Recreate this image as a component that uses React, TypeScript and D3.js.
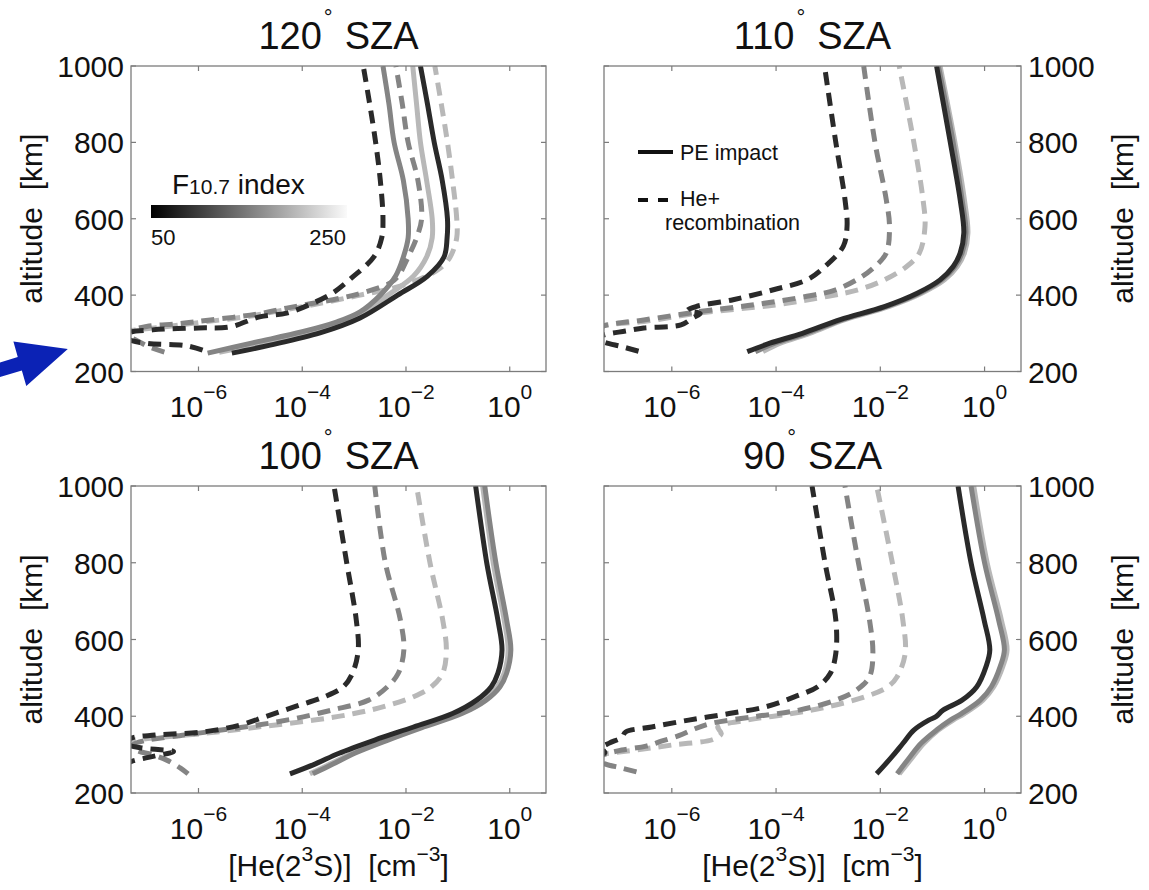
import React from 'react';
import * as d3 from 'd3';

// [altitude km, He(2^3S) density cm^-3]
type Pt = [number, number];

// ---- 120 deg SZA ----
const sza120PeDark: Pt[] = [[248, 4.4e-6], [269, 2.4e-5], [301, 2.2e-4], [340, 1.3e-3], [400, 6.9e-3], [450, 2.6e-2], [500, 5.4e-2], [550, 6.2e-2], [600, 6.3e-2], [700, 5.0e-2], [800, 3.5e-2], [900, 2.6e-2], [1000, 1.9e-2]];
const sza120PeGray: Pt[] = [[248, 1.5e-6], [275, 1.1e-5], [304, 1.0e-4], [330, 4.7e-4], [356, 1.3e-3], [400, 3.2e-3], [450, 6.3e-3], [500, 8.9e-3], [550, 1.1e-2], [600, 1.1e-2], [700, 8.9e-3], [800, 5.9e-3], [900, 4.7e-3], [1000, 3.6e-3]];
const sza120PeLight: Pt[] = [[250, 2.5e-6], [270, 1.3e-5], [300, 1.4e-4], [340, 1.0e-3], [400, 4.5e-3], [450, 1.4e-2], [500, 2.5e-2], [550, 3.2e-2], [600, 3.2e-2], [700, 2.5e-2], [800, 1.9e-2], [900, 1.6e-2], [1000, 1.35e-2]];
const sza120HeDark: Pt[] = [[256, 1.2e-6], [268, 5.6e-7], [274, 1.0e-7], [285, 4.5e-8], [300, 4.5e-8], [309, 1.3e-7], [314, 1.0e-6], [317, 4.1e-6], [343, 1.5e-5], [353, 5.0e-5], [379, 1.6e-4], [405, 3.8e-4], [447, 9.3e-4], [500, 2.4e-3], [550, 3.4e-3], [600, 3.6e-3], [700, 3.2e-3], [800, 2.6e-3], [900, 2.0e-3], [1000, 1.5e-3]];
const sza120HeGray: Pt[] = [[251, 2.2e-7], [265, 1.1e-7], [282, 6.3e-8], [300, 3.5e-8], [318, 1.0e-7], [325, 4.0e-7], [335, 1.7e-6], [350, 1.3e-5], [366, 5.0e-5], [392, 5.4e-4], [405, 1.35e-3], [432, 5.0e-3], [450, 7.1e-3], [500, 1.1e-2], [550, 1.6e-2], [600, 2.0e-2], [700, 1.7e-2], [800, 1.1e-2], [900, 8.5e-3], [1000, 6.4e-3]];
const sza120HeLight: Pt[] = [[305, 3.5e-8], [318, 2.5e-7], [330, 1.3e-6], [345, 1.0e-5], [360, 4.0e-5], [380, 2.5e-4], [400, 1.3e-3], [420, 6.3e-3], [450, 2.5e-2], [470, 4.5e-2], [500, 7.1e-2], [550, 9.5e-2], [600, 9.5e-2], [700, 7.9e-2], [800, 6.3e-2], [900, 4.8e-2], [1000, 3.6e-2]];

// ---- 110 deg SZA ----
const sza110PeDark: Pt[] = [[252, 2.8e-5], [274, 7.6e-5], [300, 3.2e-4], [336, 1.7e-3], [370, 1.2e-2], [405, 5.1e-2], [440, 0.14], [475, 0.25], [510, 0.34], [563, 0.40], [650, 0.34], [800, 0.22], [1000, 0.12]];
const sza110PeGray: Pt[] = [[252, 4.0e-5], [274, 9.5e-5], [300, 3.8e-4], [336, 1.9e-3], [370, 1.3e-2], [405, 5.6e-2], [440, 0.15], [475, 0.27], [510, 0.37], [563, 0.44], [650, 0.37], [800, 0.25], [1000, 0.13]];
const sza110PeLight: Pt[] = [[252, 5.6e-5], [274, 1.2e-4], [300, 4.4e-4], [336, 2.1e-3], [370, 1.45e-2], [405, 6.2e-2], [440, 0.17], [475, 0.30], [510, 0.41], [563, 0.48], [650, 0.41], [800, 0.27], [1000, 0.14]];
const sza110HeDark: Pt[] = [[253, 2.3e-7], [265, 1.1e-7], [277, 5.0e-8], [287, 3.5e-8], [296, 5.0e-8], [306, 1.3e-7], [314, 2.9e-7], [322, 1.5e-6], [340, 2.5e-6], [352, 3.5e-6], [360, 2.0e-6], [370, 2.9e-6], [388, 1.5e-5], [414, 8.9e-5], [440, 3.9e-4], [475, 8.7e-4], [528, 1.95e-3], [580, 2.3e-3], [650, 2.1e-3], [800, 1.4e-3], [1000, 8.5e-4]];
const sza110HeGray: Pt[] = [[312, 3.5e-8], [322, 5.8e-8], [335, 2.9e-7], [357, 3.4e-6], [375, 3.9e-5], [397, 3.9e-4], [414, 1.4e-3], [449, 4.5e-3], [475, 7.9e-3], [510, 1.3e-2], [580, 1.5e-2], [650, 1.3e-2], [800, 7.9e-3], [1000, 4.8e-3]];
const sza110HeLight: Pt[] = [[315, 3.5e-8], [322, 5.8e-8], [331, 2.9e-7], [353, 3.4e-6], [375, 1.05e-4], [397, 1.0e-3], [414, 3.8e-3], [440, 1.2e-2], [475, 3.2e-2], [510, 5.6e-2], [580, 7.2e-2], [650, 6.6e-2], [800, 4.4e-2], [1000, 2.3e-2]];

// ---- 100 deg SZA ----
const sza100PeDark: Pt[] = [[250, 5.8e-5], [276, 1.8e-4], [303, 5.0e-4], [338, 2.5e-3], [372, 1.4e-2], [407, 7.9e-2], [442, 0.23], [477, 0.44], [512, 0.59], [573, 0.71], [651, 0.59], [800, 0.36], [1000, 0.22]];
const sza100PeGray: Pt[] = [[250, 1.6e-4], [276, 4.0e-4], [303, 1.0e-3], [338, 4.5e-3], [372, 2.2e-2], [407, 0.12], [442, 0.35], [477, 0.65], [512, 0.87], [573, 1.05], [651, 0.87], [800, 0.54], [1000, 0.33]];
const sza100PeLight: Pt[] = [[250, 1.4e-4], [276, 3.5e-4], [303, 8.9e-4], [338, 4.0e-3], [372, 2.0e-2], [407, 0.105], [442, 0.31], [477, 0.575], [512, 0.78], [573, 0.93], [651, 0.78], [800, 0.48], [1000, 0.30]];
const sza100HeDark: Pt[] = [[272, 3.5e-8], [282, 5.0e-8], [296, 1.4e-7], [308, 3.3e-7], [318, 7.6e-8], [330, 3.5e-8], [343, 5.0e-8], [351, 1.45e-7], [359, 1.2e-6], [377, 6.3e-6], [399, 1.95e-5], [425, 7.2e-5], [451, 2.7e-4], [477, 6.2e-4], [512, 9.3e-4], [573, 1.2e-3], [651, 1.1e-3], [800, 7.2e-4], [1000, 4.1e-4]];
const sza100HeGray: Pt[] = [[250, 6.3e-7], [265, 4.5e-7], [285, 2.5e-7], [300, 1.26e-7], [312, 6.3e-8], [325, 5.4e-8], [338, 1.05e-7], [351, 5.4e-7], [364, 2.75e-6], [377, 1.4e-5], [394, 7.2e-5], [416, 3.7e-4], [442, 1.9e-3], [477, 4.4e-3], [512, 7.1e-3], [573, 9.1e-3], [651, 7.8e-3], [800, 4.0e-3], [1000, 2.5e-3]];
const sza100HeLight: Pt[] = [[335, 3.5e-8], [342, 1.05e-7], [355, 1.2e-6], [372, 1.4e-5], [390, 1.7e-4], [407, 1.0e-3], [425, 3.7e-3], [451, 1.4e-2], [477, 3.1e-2], [512, 5.1e-2], [573, 6.0e-2], [651, 5.1e-2], [800, 2.9e-2], [1000, 1.6e-2]];

// ---- 90 deg SZA ----
const sza90PeDark: Pt[] = [[250, 8.5e-3], [294, 1.66e-2], [329, 2.7e-2], [364, 4.4e-2], [390, 8.5e-2], [399, 0.117], [416, 0.16], [442, 0.37], [477, 0.71], [530, 1.07], [573, 1.26], [651, 0.98], [800, 0.55], [1000, 0.31]];
const sza90PeGray: Pt[] = [[250, 2.1e-2], [294, 3.7e-2], [329, 6.0e-2], [364, 0.12], [390, 0.22], [407, 0.36], [442, 0.83], [477, 1.35], [530, 2.0], [573, 2.4], [651, 1.86], [800, 1.0], [1000, 0.55]];
const sza90PeLight: Pt[] = [[250, 2.3e-2], [294, 4.2e-2], [329, 6.8e-2], [364, 0.13], [390, 0.25], [407, 0.41], [442, 0.93], [477, 1.5], [530, 2.24], [573, 2.7], [651, 2.1], [800, 1.12], [1000, 0.62]];
const sza90HeDark: Pt[] = [[295, 3.5e-8], [305, 5.2e-8], [318, 4.5e-8], [330, 6.3e-8], [345, 1.1e-7], [359, 1.3e-7], [372, 4.1e-7], [390, 2.1e-6], [407, 1.26e-5], [425, 6.5e-5], [451, 2.3e-4], [477, 6.3e-4], [512, 1.1e-3], [564, 1.4e-3], [651, 1.4e-3], [800, 8.7e-4], [1000, 4.9e-4]];
const sza90HeGray: Pt[] = [[255, 2.1e-7], [265, 1.1e-7], [277, 5.0e-8], [290, 3.5e-8], [300, 5.0e-8], [312, 1.1e-7], [322, 3.2e-7], [335, 6.3e-7], [350, 1.4e-6], [365, 2.5e-6], [381, 5.5e-6], [399, 3.9e-5], [416, 2.75e-4], [442, 1.4e-3], [468, 3.5e-3], [503, 6.2e-3], [564, 7.2e-3], [651, 6.2e-3], [800, 3.8e-3], [1000, 2.1e-3]];
const sza90HeLight: Pt[] = [[300, 3.5e-8], [312, 2.0e-7], [325, 1.0e-6], [340, 6.3e-6], [355, 8.9e-6], [372, 7.6e-6], [390, 2.8e-5], [407, 2.0e-4], [425, 1.0e-3], [451, 5.2e-3], [477, 1.4e-2], [503, 2.1e-2], [564, 3.0e-2], [651, 2.7e-2], [800, 1.7e-2], [1000, 8.5e-3]];

const panelTitles = ['120', '110', '100', '90'];
const xDomain = [5e-8, 5];
const yDomain = [200, 1000];
const xTicks = [1e-6, 1e-4, 1e-2, 1];
const xTickExp = ['\u22126', '\u22124', '\u22122', '0'];
const yTicks = [200, 400, 600, 800, 1000];
const colorbarLabels = ['50', '250'];
const lineColors = ['#2a2a2a', '#848484', '#b8b8b8']; // low, mid, high F10.7

const FONT = '"Liberation Sans", Arial, Helvetica, sans-serif';

const boxes = [
  { l: 131, r: 546, t: 66, b: 371.5, side: 'left' },
  { l: 604, r: 1021, t: 66, b: 371.5, side: 'right' },
  { l: 131, r: 546, t: 486, b: 793, side: 'left' },
  { l: 604, r: 1021, t: 486, b: 793, side: 'right' },
];

const peSets = [
  [sza120PeDark, sza120PeGray, sza120PeLight],
  [sza110PeDark, sza110PeGray, sza110PeLight],
  [sza100PeDark, sza100PeGray, sza100PeLight],
  [sza90PeDark, sza90PeGray, sza90PeLight],
];
const heSets = [
  [sza120HeDark, sza120HeGray, sza120HeLight],
  [sza110HeDark, sza110HeGray, sza110HeLight],
  [sza100HeDark, sza100HeGray, sza100HeLight],
  [sza90HeDark, sza90HeGray, sza90HeLight],
];

function Panel({ idx }: { idx: number }) {
  const box = boxes[idx];
  const x = d3.scaleLog().domain(xDomain).range([box.l, box.r]);
  const y = d3.scaleLinear().domain(yDomain).range([box.b, box.t]);
  const line = d3
    .line<Pt>()
    .x((d) => x(d[1]))
    .y((d) => y(d[0]))
    .curve(d3.curveCatmullRom.alpha(0.5));
  const cx = (box.l + box.r) / 2;
  const cy = (box.t + box.b) / 2;
  const left = box.side === 'left';
  const clipId = 'clip' + idx;
  const order = [2, 1, 0];
  const tk = 5;

  return (
    <g>
      <clipPath id={clipId}>
        <rect x={box.l} y={box.t} width={box.r - box.l} height={box.b - box.t} />
      </clipPath>
      <g clipPath={`url(#${clipId})`} fill="none" strokeWidth={5}>
        {order.map((i) => (
          <path key={'he' + i} d={line(heSets[idx][i]) || ''} stroke={lineColors[i]} strokeDasharray="13 8" />
        ))}
        {order.map((i) => (
          <path key={'pe' + i} d={line(peSets[idx][i]) || ''} stroke={lineColors[i]} strokeLinejoin="round" />
        ))}
      </g>

      {/* frame and inward ticks */}
      <rect x={box.l} y={box.t} width={box.r - box.l} height={box.b - box.t} fill="none" stroke="#7c7c7c" strokeWidth={1.3} />
      {xTicks.map((v) => (
        <g key={'xt' + v} stroke="#7c7c7c" strokeWidth={1.2}>
          <line x1={x(v)} x2={x(v)} y1={box.b} y2={box.b - tk} />
          <line x1={x(v)} x2={x(v)} y1={box.t} y2={box.t + tk} />
        </g>
      ))}
      {yTicks.map((v) => (
        <g key={'yt' + v} stroke="#7c7c7c" strokeWidth={1.2}>
          <line x1={box.l} x2={box.l + tk} y1={y(v)} y2={y(v)} />
          <line x1={box.r} x2={box.r - tk} y1={y(v)} y2={y(v)} />
        </g>
      ))}

      {/* tick labels */}
      {xTicks.map((v, i) => (
        <text key={'xl' + v} x={x(v)} y={box.b + 45.5} textAnchor="middle" fontSize={30} fill="#111">
          10
          <tspan fontSize={21} dy={-18}>
            {xTickExp[i]}
          </tspan>
        </text>
      ))}
      {yTicks.map((v) => (
        <text
          key={'yl' + v}
          x={left ? box.l - 7 : box.r + 7}
          y={y(v) + 11}
          textAnchor={left ? 'end' : 'start'}
          fontSize={30}
          fill="#111"
        >
          {v}
        </text>
      ))}

      {/* title */}
      <text x={cx} y={box.t - 17.5} textAnchor="middle" fontSize={38} fill="#111">
        {panelTitles[idx]}
        <tspan fontSize={22} dx={2} dy={-24}>
          °
        </tspan>
        <tspan dx={12} dy={24}>
          SZA
        </tspan>
      </text>

      {/* axis labels */}
      <text
        transform={`translate(${left ? 42 : 1133},${cy}) rotate(-90)`}
        textAnchor="middle"
        fontSize={30}
        fill="#111"
      >
        {'altitude\u00A0 [km]'}
      </text>
      {idx >= 2 && (
        <text x={cx} y={876} textAnchor="middle" fontSize={30} fill="#111">
          [He(2
          <tspan fontSize={21} dy={-15}>
            3
          </tspan>
          <tspan dy={15}>{'S)]\u00A0 [cm'}</tspan>
          <tspan fontSize={21} dy={-15}>
            {'\u22123'}
          </tspan>
          <tspan dy={15}>]</tspan>
        </text>
      )}
    </g>
  );
}

export default function App() {
  return (
    <svg
      width={1149}
      height={890}
      style={{ position: 'absolute', left: 0, top: 0, display: 'block' }}
      fontFamily={FONT}
    >
      <defs>
        <linearGradient id="f107" x1="0" x2="1" y1="0" y2="0">
          <stop offset="0" stopColor="#000" />
          <stop offset="1" stopColor="#fafafa" />
        </linearGradient>
      </defs>
      <rect width={1149} height={890} fill="#fff" />

      {[0, 1, 2, 3].map((i) => (
        <Panel key={i} idx={i} />
      ))}

      {/* F10.7 colour legend */}
      <text x={172} y={194} fontSize={28} fill="#111">
        F<tspan fontSize={21}>10.7</tspan>
        <tspan>{' index'}</tspan>
      </text>
      <rect x={151} y={205} width={196} height={13} fill="url(#f107)" />
      <text x={151} y={244.5} fontSize={22} fill="#111">
        {colorbarLabels[0]}
      </text>
      <text x={346} y={244.5} fontSize={22} textAnchor="end" fill="#111">
        {colorbarLabels[1]}
      </text>

      {/* line-style legend */}
      <line x1={638} x2={673} y1={152} y2={152} stroke="#111" strokeWidth={4} />
      <text x={680} y={159.5} fontSize={21.5} fill="#111">
        PE impact
      </text>
      <line x1={638} x2={668} y1={200} y2={200} stroke="#111" strokeWidth={4} strokeDasharray="10 10" />
      <text x={680} y={206} fontSize={21.5} fill="#111">
        He+
      </text>
      <text x={665} y={230} fontSize={21.5} fill="#111">
        recombination
      </text>

      {/* blue annotation arrow */}
      <path
        d="M -58.7 380.4 L 17.75 357 L 13.4 341.5 L 67.8 349 L 26.3 386 L 21.85 370.4 L -54.6 393.8 Z"
        fill="#0b22b5"
      />
    </svg>
  );
}
